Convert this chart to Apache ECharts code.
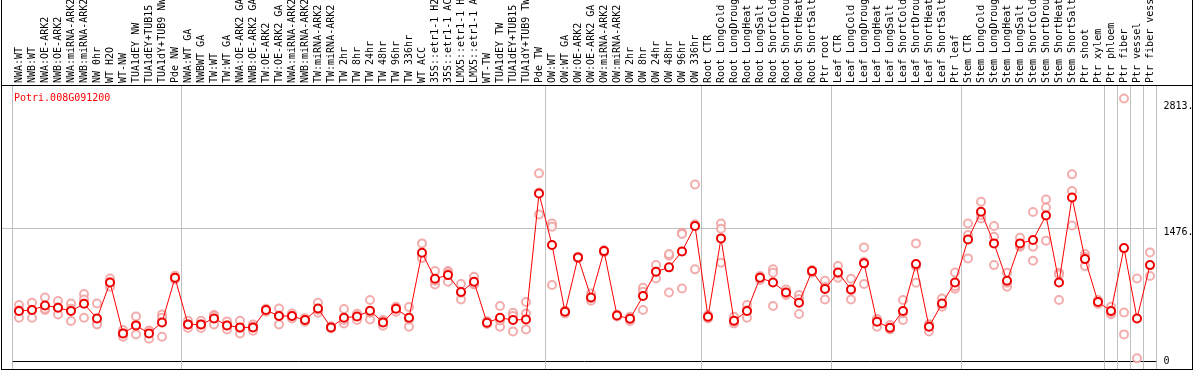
<!DOCTYPE html>
<html><head><meta charset="utf-8">
<script src="https://cdn.jsdelivr.net/npm/echarts@6/dist/echarts.min.js"></script>
<style>html,body{margin:0;padding:0;background:#fff}#c{width:1194px;height:370px}</style>
</head><body><div id="c"></div><script>
const geneTitle = 'Potri.008G091200';
const categories = [
 'NWA:WT','NWB:WT','NWA:OE-ARK2','NWB:OE-ARK2','NWA:miRNA-ARK2','NWB:miRNA-ARK2','NW 0hr','WT H2O','WT-NW','TUA1dEY NW','TUA1dEY+TUB15 NW','TUA1dY+TUB9 NW','Pde NW',
 'NWA:WT GA','NWBWT GA','TW:WT','TW:WT GA','NWA:OE-ARK2 GA','NWB:OE-ARK2 GA','TW:OE-ARK2','TW:OE-ARK2 GA','NWA:miRNA-ARK2','NWB:miRNA-ARK2','TW:miRNA-ARK2','TW:miRNA-ARK2','TW 2hr','TW 8hr','TW 24hr','TW 48hr','TW 96hr','TW 336hr','WT ACC','35S::etr1-1 H2O','35S::etr1-1 ACC','LMX5::etr1-1 H2O','LMX5::etr1-1 ACC','WT-TW','TUA1dEY TW','TUA1dEY+TUB15 TW','TUA1dY+TUB9 TW','Pde TW',
 'OW:WT','OW:WT GA','OW:OE-ARK2','OW:OE-ARK2 GA','OW:miRNA-ARK2','OW:miRNA-ARK2','OW 2hr','OW 8hr','OW 24hr','OW 48hr','OW 96hr','OW 336hr',
 'Root CTR','Root LongCold','Root LongDrought','Root LongHeat','Root LongSalt','Root ShortCold','Root ShortDrought','Root ShortHeat','Root ShortSalt','Ptr root',
 'Leaf CTR','Leaf LongCold','Leaf LongDrought','Leaf LongHeat','Leaf LongSalt','Leaf ShortCold','Leaf ShortDrought','Leaf ShortHeat','Leaf ShortSalt','Ptr leaf',
 'Stem CTR','Stem LongCold','Stem LongDrought','Stem LongHeat','Stem LongSalt','Stem ShortCold','Stem ShortDrought','Stem ShortHeat','Stem ShortSalt','Ptr shoot','Ptr xylem',
 'Ptr phloem','Ptr fiber','Ptr vessel','Ptr fiber vessel'
];
const groupStarts = [0,13,41,53,63,73,84,85,86,87,88];
const means = [
 558,569,620,595,558,638,477,873,312,400,312,433,925,
 411,411,477,400,378,378,569,503,503,459,587,378,484,499,562,433,583,484,1200,914,954,767,881,429,484,459,466,1853,
 1285,550,1149,708,1218,510,473,723,991,1039,1215,1494,
 495,1358,451,558,925,873,763,650,998,800,
 983,796,1083,440,374,558,1075,385,642,873,
 1347,1652,1303,892,1303,1340,1611,873,1809,1130,657,
 558,1251,477,1064
];
const replicates = [
 [624,484,566],[650,484,573],[708,569,583],[668,521,596],[642,448,584],[745,686,484],[642,422,411],[917,826,876],[349,275,312],[499,301,400],[341,253,341],[521,484,275],[947,906,922],
 [451,371,411],[451,371,411],[514,411,506],[444,356,400],[451,312,371],[411,341,382],[583,550,574],[587,411,510],[532,477,500],[480,440,457],[650,539,572],[390,366,378],[580,422,459],[510,459,528],[679,466,540],[459,396,444],[606,550,593],[602,385,466],[1303,1156,1141],[998,851,893],[998,881,983],[855,686,760],[936,851,856],[448,415,424],[613,385,455],[539,334,503],[657,532,356],[2074,1622,1864],
 [1523,1486,844],[532,560,558],[1156,1141,1149],[752,671,700],[1230,1206,1218],[521,499,510],[495,448,476],[815,771,569],[1064,917,991],[1167,763,1186],[1420,1406,807],[1952,1017,1513],
 [514,477,495],[1523,1464,1090],[495,422,440],[624,484,566],[943,899,932],[1017,980,613],[796,734,760],[734,525,690],[1009,980,1005],[892,686,822],
 [1053,925,970],[914,686,788],[1259,1101,855],[466,385,470],[404,356,362],[679,459,536],[1303,870,1052],[411,334,410],[697,624,605],[983,804,832],
 [1523,1395,1138],[1762,1578,1616],[1494,1376,1064],[980,826,870],[1365,1266,1278],[1648,1266,1112],[1787,1699,1332],[980,679,960],[2063,1879,1501],[1185,1053,1152],[679,635,657],
 [605,524,545],[2899,543,301],[917,37],[1204,943]
];
const yTickValues = [0,1476,2813];
const yTickLabels = ['0','1476.','2813.'];
const gridLineValue = 1476;
const yMin = -80, yMax = 3047;

const repData = [];
replicates.forEach((arr,i)=>arr.forEach(v=>repData.push([i,v])));
const mono = 'DejaVu Sans Mono';
const chart = echarts.init(document.getElementById('c'));
const isGroupStart = (idx)=>groupStarts.indexOf(idx) >= 0;
chart.setOption({
  animation:false,
  backgroundColor:'#fff',
  title:{text:geneTitle,left:9,top:88,textStyle:{color:'#ff0000',fontSize:10,fontFamily:mono,fontWeight:'normal'}},
  grid:{left:12.5,right:37.5,top:85,bottom:1,containLabel:false,outerBoundsMode:'none'},
  xAxis:{type:'category',data:categories,position:'top',boundaryGap:true,
    axisLine:{show:true,lineStyle:{color:'#000',width:1}},
    axisTick:{show:true,interval:(i)=>isGroupStart(i),length:85,lineStyle:{color:'#c0c0c0',width:1}},
    splitLine:{show:true,interval:(i)=>isGroupStart(i),lineStyle:{color:'#c0c0c0',width:1}},
    axisLabel:{interval:0,rotate:90,margin:2,fontSize:10,fontFamily:mono,color:'#000',hideOverlap:false}},
  yAxis:{type:'value',position:'right',min:yMin,max:yMax,
    axisLine:{show:false},axisTick:{show:false},splitLine:{show:false},
    axisLabel:{customValues:yTickValues,margin:7,fontSize:10,fontFamily:mono,color:'#000',align:'left',
      formatter:(v)=>{const k=yTickValues.indexOf(v);const s=k>=0?yTickLabels[k]:'';return v===gridLineValue?'{d|'+s+'}':s;},
      rich:{d:{fontSize:10,fontFamily:mono,color:'#000',padding:[10,0,0,0]}}}},
  series:[
    {type:'scatter',data:repData,symbol:'emptyCircle',symbolSize:8,z:2,
     itemStyle:{color:'#f09898',borderColor:'#f09898',borderWidth:1.3}},
    {type:'line',data:means,symbol:'emptyCircle',symbolSize:8,z:3,
     lineStyle:{color:'#ff0000',width:1},
     itemStyle:{color:'#ee0000',borderColor:'#ee0000',borderWidth:1.8}}
  ]
});
const gy = Math.round(chart.convertToPixel({yAxisIndex:0}, gridLineValue)) + 0.5;
const rightEdge = chart.convertToPixel({xAxisIndex:0}, categories.length-1) + 6.5;
chart.setOption({graphic:[
  {type:'line',shape:{x1:1,y1:gy,x2:rightEdge,y2:gy},style:{stroke:'#c0c0c0',lineWidth:1},z:-1,silent:true},
  {type:'line',shape:{x1:1.5,y1:0,x2:1.5,y2:369.5},style:{stroke:'#000',lineWidth:1},silent:true},
  {type:'line',shape:{x1:1192.5,y1:0,x2:1192.5,y2:369.5},style:{stroke:'#000',lineWidth:1},silent:true},
  {type:'line',shape:{x1:1,y1:85.5,x2:1193,y2:85.5},style:{stroke:'#000',lineWidth:1},silent:true},
  {type:'line',shape:{x1:1,y1:369.5,x2:1193,y2:369.5},style:{stroke:'#000',lineWidth:1},silent:true}
]});
</script></body></html>
